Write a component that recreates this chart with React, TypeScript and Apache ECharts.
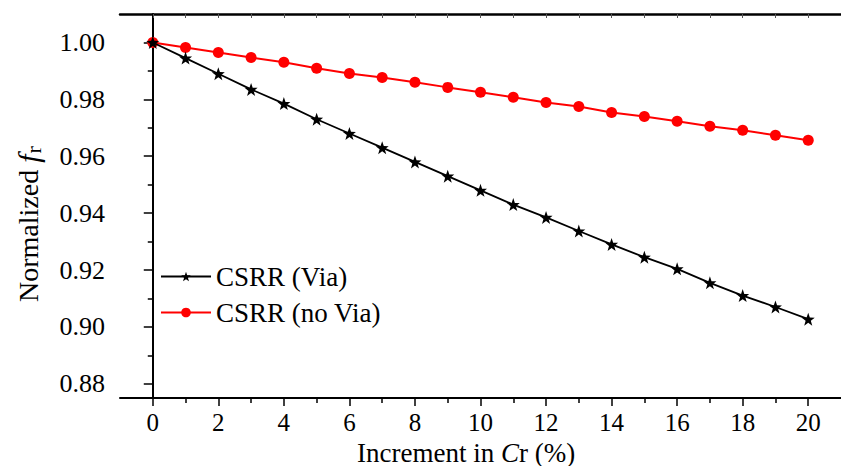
import React, { useEffect, useRef } from "react";
import * as echarts from "echarts";

// Increment in Cr (%)
const increments = [0, 1, 2, 3, 4, 5, 6, 7, 8, 9, 10, 11, 12, 13, 14, 15, 16, 17, 18, 19, 20];
// Normalized resonant frequency, CSRR with via
const viaValues = [
  1.0, 0.9945, 0.989, 0.9835, 0.9785, 0.973, 0.968, 0.963, 0.958, 0.953, 0.948,
  0.943, 0.9385, 0.9337, 0.929, 0.9245, 0.9204, 0.9155, 0.911, 0.907, 0.9027,
];
// Normalized resonant frequency, CSRR without via
const noViaValues = [
  1.0, 0.9982, 0.9965, 0.9947, 0.993, 0.9909, 0.9891, 0.9877, 0.986, 0.9842, 0.9825,
  0.9807, 0.9789, 0.9775, 0.9754, 0.974, 0.9723, 0.9705, 0.9691, 0.9674, 0.9656,
];
const yMajorTicks = [0.88, 0.9, 0.92, 0.94, 0.96, 0.98, 1.0];
const yMinorTicks = [0.89, 0.91, 0.93, 0.95, 0.97, 0.99];
const xMajorTicks = [0, 2, 4, 6, 8, 10, 12, 14, 16, 18, 20];
const xMinorTicks = [1, 3, 5, 7, 9, 11, 13, 15, 17, 19];
const seriesNames = ["CSRR (Via)", "CSRR (no Via)"];

const FONT = "'Liberation Serif', 'Times New Roman', serif";
const STAR =
  "path://M0,-10 L2.35,-3.24 L9.51,-3.09 L3.8,1.24 L5.88,8.09 L0,4 L-5.88,8.09 L-3.8,1.24 L-9.51,-3.09 L-2.35,-3.24 Z";

export default function App() {
  const ref = useRef<HTMLDivElement>(null);

  useEffect(() => {
    document.body.style.margin = "0";
    if (!ref.current) return;
    const chart = echarts.init(ref.current, undefined, { renderer: "svg" });
    const axisLine = { show: true, lineStyle: { color: "#000", width: 2 } };

    chart.setOption({
      animation: false,
      backgroundColor: "#fff",
      grid: { left: 120, right: -8, top: 14, bottom: 68, containLabel: false },
      legend: {
        orient: "vertical",
        left: 155,
        top: 258,
        itemWidth: 50,
        itemHeight: 12,
        itemGap: 9,
        textStyle: { color: "#000", fontFamily: FONT, fontSize: 27 },
        data: seriesNames,
      },
      xAxis: [
        {
          type: "value",
          position: "bottom",
          min: -1,
          max: 21,
          interval: 1,
          axisLine,
          axisTick: { show: true, length: 8, customValues: xMajorTicks, lineStyle: { color: "#000", width: 1.5 } },
          axisLabel: {
            color: "#000",
            fontFamily: FONT,
            fontSize: 25,
            lineHeight: 22,
            margin: 13,
            customValues: xMajorTicks,
          },
          splitLine: { show: false },
        },
        {
          type: "value",
          position: "bottom",
          min: -1,
          max: 21,
          interval: 1,
          axisLine: { show: false },
          axisTick: { show: true, length: 5, customValues: xMinorTicks, lineStyle: { color: "#000", width: 1.5 } },
          axisLabel: { show: false },
          splitLine: { show: false },
        },
        {
          type: "value",
          position: "top",
          min: -1,
          max: 21,
          interval: 1,
          axisLine: { show: true, lineStyle: { color: "#000", width: 2.5 } },
          axisTick: { show: true, inside: true, length: 4, customValues: increments, lineStyle: { color: "#555", width: 1 } },
          axisLabel: { show: false },
          splitLine: { show: false },
        },
      ],
      yAxis: [
        {
          type: "value",
          position: "left",
          min: 0.875,
          max: 1.01,
          axisLine,
          axisTick: { show: true, length: 9, customValues: yMajorTicks, lineStyle: { color: "#000", width: 1.5 } },
          axisLabel: {
            color: "#000",
            fontFamily: FONT,
            fontSize: 26,
            margin: 15,
            customValues: yMajorTicks,
            formatter: (v: number) => v.toFixed(2),
          },
          splitLine: { show: false },
        },
        {
          type: "value",
          position: "left",
          min: 0.875,
          max: 1.01,
          axisLine: { show: false },
          axisTick: { show: true, length: 5, customValues: yMinorTicks, lineStyle: { color: "#000", width: 1.5 } },
          axisLabel: { show: false },
          splitLine: { show: false },
        },
      ],
      series: [
        {
          name: seriesNames[0],
          type: "line",
          xAxisIndex: 0,
          yAxisIndex: 0,
          data: increments.map((x, i) => [x, viaValues[i]]),
          symbol: STAR,
          symbolSize: 13,
          lineStyle: { color: "#000", width: 1.8 },
          itemStyle: { color: "#000" },
          z: 3,
        },
        {
          name: seriesNames[1],
          type: "line",
          xAxisIndex: 0,
          yAxisIndex: 0,
          data: increments.map((x, i) => [x, noViaValues[i]]),
          symbol: "circle",
          symbolSize: 11,
          lineStyle: { color: "#ff0000", width: 2 },
          itemStyle: { color: "#ff0000" },
          z: 2,
        },
      ],
      graphic: [
        {
          type: "text",
          left: 357,
          top: 439,
          style: {
            text: "{n|Increment in }{i|C}{n|r (%)}",
            rich: {
              n: { fontFamily: FONT, fontSize: 27, lineHeight: 24, fill: "#000" },
              i: { fontFamily: FONT, fontSize: 27, lineHeight: 24, fontStyle: "italic", fill: "#000" },
            },
          },
        },
        {
          type: "text",
          x: 12,
          y: 302,
          rotation: Math.PI / 2,
          style: {
            text: "{n|Normalized }{i|f}{s|r}",
            rich: {
              n: { fontFamily: FONT, fontSize: 28, fill: "#000" },
              i: { fontFamily: FONT, fontSize: 30, fontStyle: "italic", fill: "#000" },
              s: { fontFamily: FONT, fontSize: 22, fill: "#000", padding: [10, 0, 0, 1] },
            },
          },
        },
      ],
    });

    return () => chart.dispose();
  }, []);

  return <div ref={ref} style={{ width: 841, height: 466 }} />;
}
